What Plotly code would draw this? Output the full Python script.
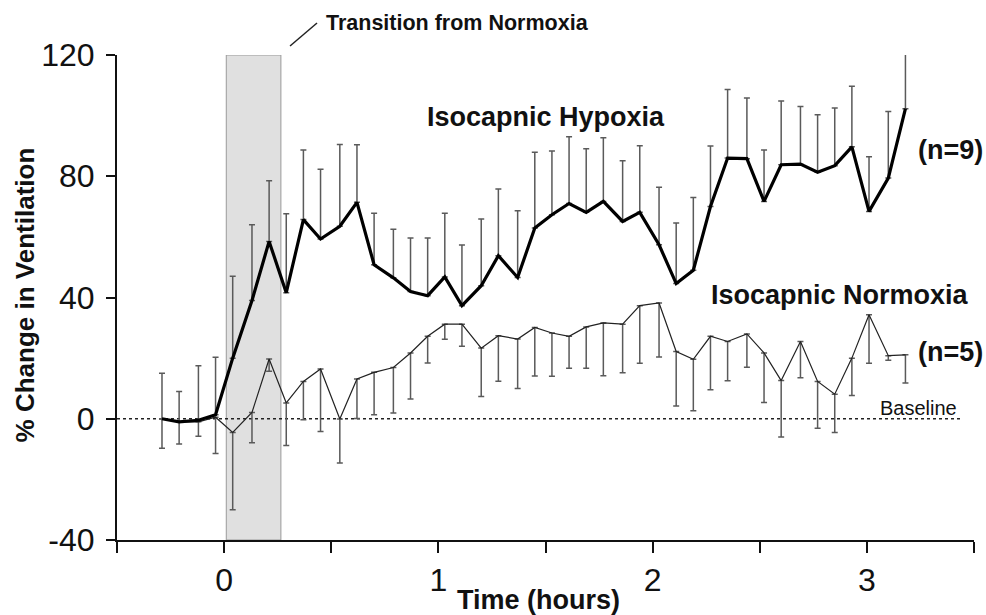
import plotly.graph_objects as go

# ---- data ----
time_h = [-0.29, -0.21, -0.12, -0.04, 0.04, 0.13, 0.21, 0.29, 0.37, 0.45, 0.54, 0.62,
          0.70, 0.79, 0.87, 0.95, 1.03, 1.11, 1.20, 1.28, 1.37, 1.45, 1.53, 1.61,
          1.69, 1.77, 1.86, 1.94, 2.03, 2.11, 2.19, 2.27, 2.35, 2.44, 2.52, 2.60,
          2.69, 2.77, 2.85, 2.93, 3.01, 3.10, 3.18]

hypoxia_mean = [0, -1, -0.5, 1.3, 20, 39, 58.5, 41.6, 65.7, 59.3, 63.5, 71.4,
                50.8, 46.5, 42, 40.6, 46.8, 37.3, 43.9, 53.8, 46.6, 62.9, 67.3, 71,
                68.1, 71.7, 65.1, 68.1, 57.4, 44.6, 49, 70, 86, 85.8, 71.7, 83.8,
                84, 81.3, 83.5, 89.7, 68.4, 79.4, 102.3]
hypoxia_sd = [15, 10, 18, 19, 27, 25, 20, 26, 23, 23, 27, 19,
              17, 16, 17.6, 19, 21, 20, 22, 22, 22, 25, 21, 22,
              21, 21, 20, 22, 19, 20, 24, 20, 22.6, 20, 17, 21,
              19, 19, 19, 20, 18, 22, 22]

normoxia_mean = [0, -1, -1, 0.5, -4.5, 2.1, 19.7, 5.2, 12.3, 16.4, -0.1, 13.1,
                 15.3, 16.9, 21.7, 27.2, 31.2, 31.2, 23.3, 27.4, 26.3, 30.1, 28.3, 27.2,
                 30.3, 31.6, 31.2, 37.3, 38.2, 22.2, 19.6, 27.2, 25.5, 28, 21.7, 12.6,
                 25.5, 12.3, 8.1, 20, 34.3, 20.8, 21.1]
normoxia_sd = [9.7, 7.3, 4.8, 12, 25.5, 10, 4, 14, 12.6, 20.6, 14.5, 13,
               14, 15, 15.2, 8.8, 5, 7.3, 16, 15, 16.3, 16, 14.3, 10.5,
               13.6, 17.4, 16, 19, 17.8, 18, 17, 17.6, 13, 11, 16.3, 18.6,
               12, 15.4, 12.6, 12.3, 16, 1.5, 9.3]

transition_window = [0.01, 0.265]
x_tickvals = [-0.5, 0, 0.5, 1, 1.5, 2, 2.5, 3, 3.5]
x_ticktext = ["", "0", "", "1", "", "2", "", "3", ""]
y_tickvals = [-40, 0, 40, 80, 120]
y_ticktext = ["-40", "0", "40", "80", "120"]

FONT = "Liberation Sans, Arial, Helvetica, sans-serif"

fig = go.Figure()

# transition shaded window
fig.add_shape(type="rect", xref="x", yref="y",
              x0=transition_window[0], x1=transition_window[1], y0=-40, y1=120,
              fillcolor="#e0e0e0", line=dict(color="#9a9a9a", width=1), layer="below")

# baseline dashed line
fig.add_shape(type="line", xref="x", yref="y", x0=-0.5, x1=3.44, y0=0, y1=0,
              line=dict(color="#222222", width=1.3, dash="3px,3px"), layer="below")

# normoxia (thin, error bars downward)
fig.add_trace(go.Scatter(
    x=time_h, y=normoxia_mean, mode="lines",
    line=dict(color="#222222", width=1.2),
    error_y=dict(type="data", symmetric=False, array=[0] * len(normoxia_sd),
                 arrayminus=normoxia_sd, color="#5a5a5a", thickness=1.5, width=3),
    showlegend=False))

# hypoxia (thick, error bars upward)
fig.add_trace(go.Scatter(
    x=time_h, y=hypoxia_mean, mode="lines",
    line=dict(color="#000000", width=3.2),
    error_y=dict(type="data", symmetric=False, array=hypoxia_sd,
                 arrayminus=[0] * len(hypoxia_sd), color="#5a5a5a", thickness=1.5, width=3),
    showlegend=False))

# leader line for transition label
fig.add_shape(type="line", xref="paper", yref="paper",
              x0=0.2019, y0=1.0186, x1=0.2334, y1=1.066,
              line=dict(color="#222222", width=1.5))

ann = [
    dict(text="<b>Transition from Normoxia</b>", xref="paper", yref="paper",
         x=0.242, y=1.066, xanchor="left", yanchor="middle", font=dict(size=21.5)),
    dict(text="<b>Isocapnic Hypoxia</b>", xref="x", yref="y", x=1.50, y=99.7,
         xanchor="center", yanchor="middle", font=dict(size=27)),
    dict(text="<b>Isocapnic Normoxia</b>", xref="x", yref="y", x=2.875, y=40.9,
         xanchor="center", yanchor="middle", font=dict(size=27)),
    dict(text="<b>(n=9)</b>", xref="x", yref="y", x=3.39, y=88.8,
         xanchor="center", yanchor="middle", font=dict(size=27)),
    dict(text="<b>(n=5)</b>", xref="x", yref="y", x=3.39, y=22.1,
         xanchor="center", yanchor="middle", font=dict(size=27)),
    dict(text="Baseline", xref="x", yref="y", x=3.43, y=3.6,
         xanchor="right", yanchor="middle", font=dict(size=20)),
    dict(text="<b>Time (hours)</b>", xref="paper", yref="paper", x=0.492, y=-0.124,
         xanchor="center", yanchor="middle", font=dict(size=27)),
    dict(text="<b>% Change in Ventilation</b>", xref="paper", yref="paper", x=-0.107, y=0.505,
         xanchor="center", yanchor="middle", textangle=-90, font=dict(size=26)),
]
for a in ann:
    a["showarrow"] = False
    a["font"]["family"] = FONT
    a["font"]["color"] = "#111111"
    fig.add_annotation(**a)

fig.update_layout(
    width=986, height=615,
    margin=dict(l=117, r=12, t=55, b=75),
    paper_bgcolor="white", plot_bgcolor="white",
    font=dict(family=FONT, color="#111111"),
    xaxis=dict(range=[-0.5, 3.5], tickmode="array", tickvals=x_tickvals, ticktext=x_ticktext,
               showline=True, linecolor="#111111", linewidth=2, ticks="outside",
               ticklen=11, tickwidth=2, tickcolor="#111111", showgrid=False, zeroline=False,
               tickfont=dict(size=32, family=FONT, color="#111111")),
    yaxis=dict(range=[-40, 120], tickmode="array", tickvals=y_tickvals, ticktext=y_ticktext,
               showline=True, linecolor="#111111", linewidth=2, ticks="outside",
               ticklen=9, tickwidth=2, tickcolor="#111111", showgrid=False, zeroline=False,
               ticklabelstandoff=5,
               tickfont=dict(size=32, family=FONT, color="#111111")),
)

fig.write_html("out.html")
